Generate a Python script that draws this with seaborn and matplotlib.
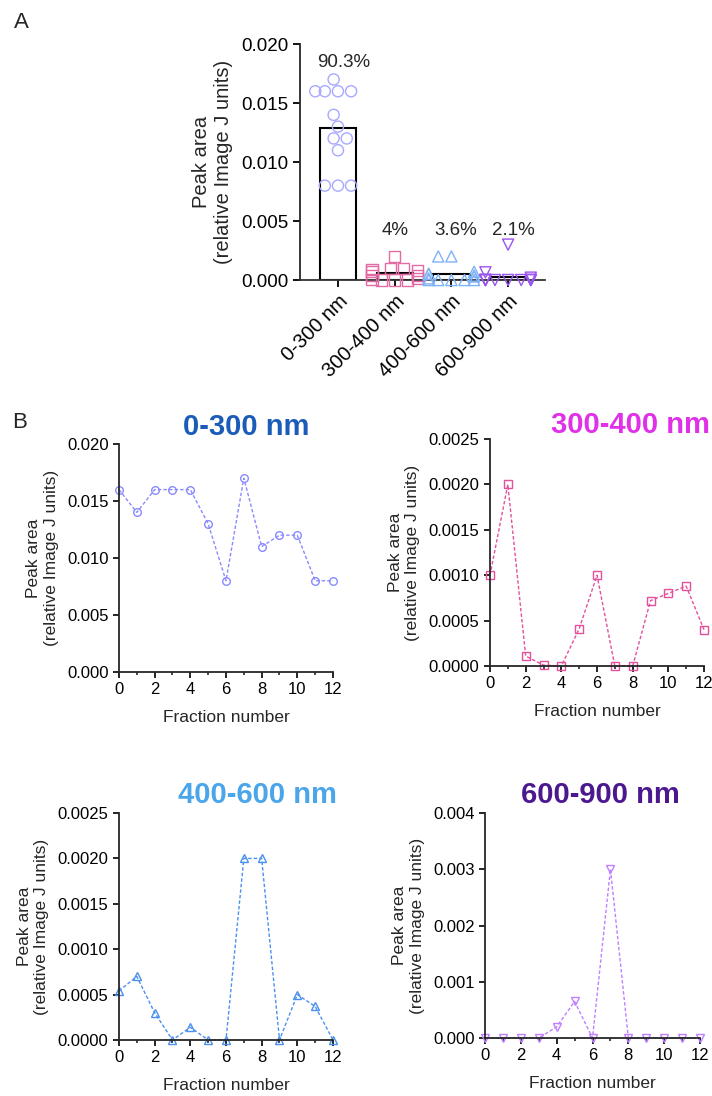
import numpy as np
import pandas as pd
import matplotlib
matplotlib.use("Agg")
import matplotlib.pyplot as plt
from matplotlib.ticker import FormatStrFormatter, MultipleLocator
import seaborn as sns
import warnings
warnings.filterwarnings("ignore")

# ---------------- data ----------------
categories = ["0-300 nm", "300-400 nm", "400-600 nm", "600-900 nm"]
percent_labels = ["90.3%", "4%", "3.6%", "2.1%"]
fractions = list(range(13))
area_0_300 = [0.016, 0.014, 0.016, 0.016, 0.016, 0.013, 0.008, 0.017, 0.011, 0.012, 0.012, 0.008, 0.008]
area_300_400 = [0.0010, 0.0020, 0.00011, 0.00001, 0.0, 0.00041, 0.0010, 0.0, 0.0, 0.00072, 0.00080, 0.00088, 0.00040]
area_400_600 = [0.00054, 0.00070, 0.00030, 0.0, 0.00014, 0.0, 0.0, 0.0020, 0.0020, 0.0, 0.00050, 0.00037, 0.0]
area_600_900 = [0.0, 0.0, 0.0, 0.0, 0.00020, 0.00065, 0.0, 0.0030, 0.0, 0.0, 0.0, 0.0, 0.0]
series = [area_0_300, area_300_400, area_400_600, area_600_900]

# ---------------- style ----------------
sns.set_theme(style="ticks")
plt.rcParams['font.family'] = ['Liberation Sans', 'DejaVu Sans']
plt.rcParams['axes.linewidth'] = 1.3

title_colors = ["#1a5cb8", "#e030e8", "#4aa5ea", "#4c1890"]
line_colors = ["#8a8aff", "#e4509a", "#4a90f0", "#c080ff"]
swarm_colors = ["#a8a8ff", "#e26aa5", "#7fb2f6", "#9a55ee"]
markers = ["o", "s", "^", "v"]

fig = plt.figure(figsize=(7.12, 10.96), dpi=100)

# ---------------- panel A ----------------
df = pd.DataFrame({
    "size": np.repeat(categories, len(fractions)),
    "area": np.concatenate(series),
})
axA = fig.add_axes([0.4213, 0.7445, 0.3441, 0.2153])
sns.barplot(data=df, x="size", y="area", order=categories, errorbar=None,
            width=0.64, color="white", edgecolor="black", linewidth=1.5, ax=axA)
for cat, col, mk in zip(categories, swarm_colors, markers):
    sub = df[df["size"] == cat]
    n_before = len(axA.collections)
    sns.swarmplot(data=sub, x="size", y="area", order=categories, marker=mk,
                  size=8, color=col, linewidth=1.0, ax=axA)
    for coll in axA.collections[n_before:]:
        coll.set_facecolor("none")
        coll.set_edgecolor(col)
        coll.set_linewidth(1.0)
        if len(coll.get_offsets()) > 0:
            coll.set_clip_on(False)

axA.set_ylim(0, 0.020)
axA.set_xlim(-0.67, 3.65)
axA.yaxis.set_major_locator(MultipleLocator(0.005))
axA.yaxis.set_major_formatter(FormatStrFormatter("%.3f"))
axA.tick_params(axis="y", direction="out", length=5, width=1.3, labelsize=13.5, colors="black")
axA.tick_params(axis="x", direction="out", length=5, width=1.3, labelsize=14.5, colors="black")
axA.set_xlabel("")
axA.set_ylabel("Peak area\n(relative Image J units)", fontsize=14.5, labelpad=6)
plt.setp(axA.get_xticklabels(), rotation=45, ha="right", rotation_mode="anchor")
sns.despine(ax=axA)
axA.spines["bottom"].set_color("#333333")

pct_y = [0.0184, 0.0042, 0.0042, 0.0042]
pct_dx = [0.1, 0.0, 0.08, 0.1]
for i, (lab, yv) in enumerate(zip(percent_labels, pct_y)):
    axA.text(i + pct_dx[i], yv, lab, ha="center", va="center", fontsize=13.5)

fig.text(21 / 712, 1 - 22 / 1096, "A", fontsize=16, ha="center", va="center")

# ---------------- panel B ----------------
rects = [
    [0.1671, 0.3869, 0.3006, 0.2080],
    [0.6882, 0.3923, 0.3006, 0.2071],
    [0.1671, 0.0511, 0.3006, 0.2071],
    [0.6812, 0.0529, 0.3020, 0.2053],
]
ymaxes = [0.020, 0.0025, 0.0025, 0.004]
ysteps = [0.005, 0.0005, 0.0005, 0.001]
yfmts = ["%.3f", "%.4f", "%.4f", "%.3f"]
title_pos = [(246, 427), (630, 425), (257, 795), (600, 795)]

for k in range(4):
    ax = fig.add_axes(rects[k])
    sns.lineplot(x=fractions, y=series[k], ax=ax, color=line_colors[k],
                 linewidth=1.0, linestyle=(0, (2.5, 1.5)), marker=markers[k],
                 markersize=5.5, markerfacecolor="none",
                 markeredgecolor=line_colors[k], markeredgewidth=1.0)
    for ln in ax.lines:
        ln.set_clip_on(False)
    ax.set_xlim(0, 12)
    ax.set_ylim(0, ymaxes[k])
    ax.xaxis.set_major_locator(MultipleLocator(2))
    ax.xaxis.set_minor_locator(MultipleLocator(1))
    ax.yaxis.set_major_locator(MultipleLocator(ysteps[k]))
    ax.yaxis.set_major_formatter(FormatStrFormatter(yfmts[k]))
    ax.tick_params(axis="both", which="major", direction="out", length=4, width=1.2,
                   labelsize=12, colors="black")
    ax.tick_params(axis="x", which="minor", direction="out", length=2.5, width=1.2)
    ax.set_xlabel("Fraction number", fontsize=12.5, labelpad=9)
    ax.set_ylabel("Peak area\n(relative Image J units)", fontsize=12.5, labelpad=6)
    sns.despine(ax=ax)
    tx, ty = title_pos[k]
    fig.text(tx / 712, 1 - ty / 1096, categories[k], fontsize=21, fontweight="bold",
             color=title_colors[k], ha="center", va="center")

fig.text(20 / 712, 1 - 423 / 1096, "B", fontsize=16, ha="center", va="center")

fig.savefig("out.png", dpi=100, facecolor="white")
